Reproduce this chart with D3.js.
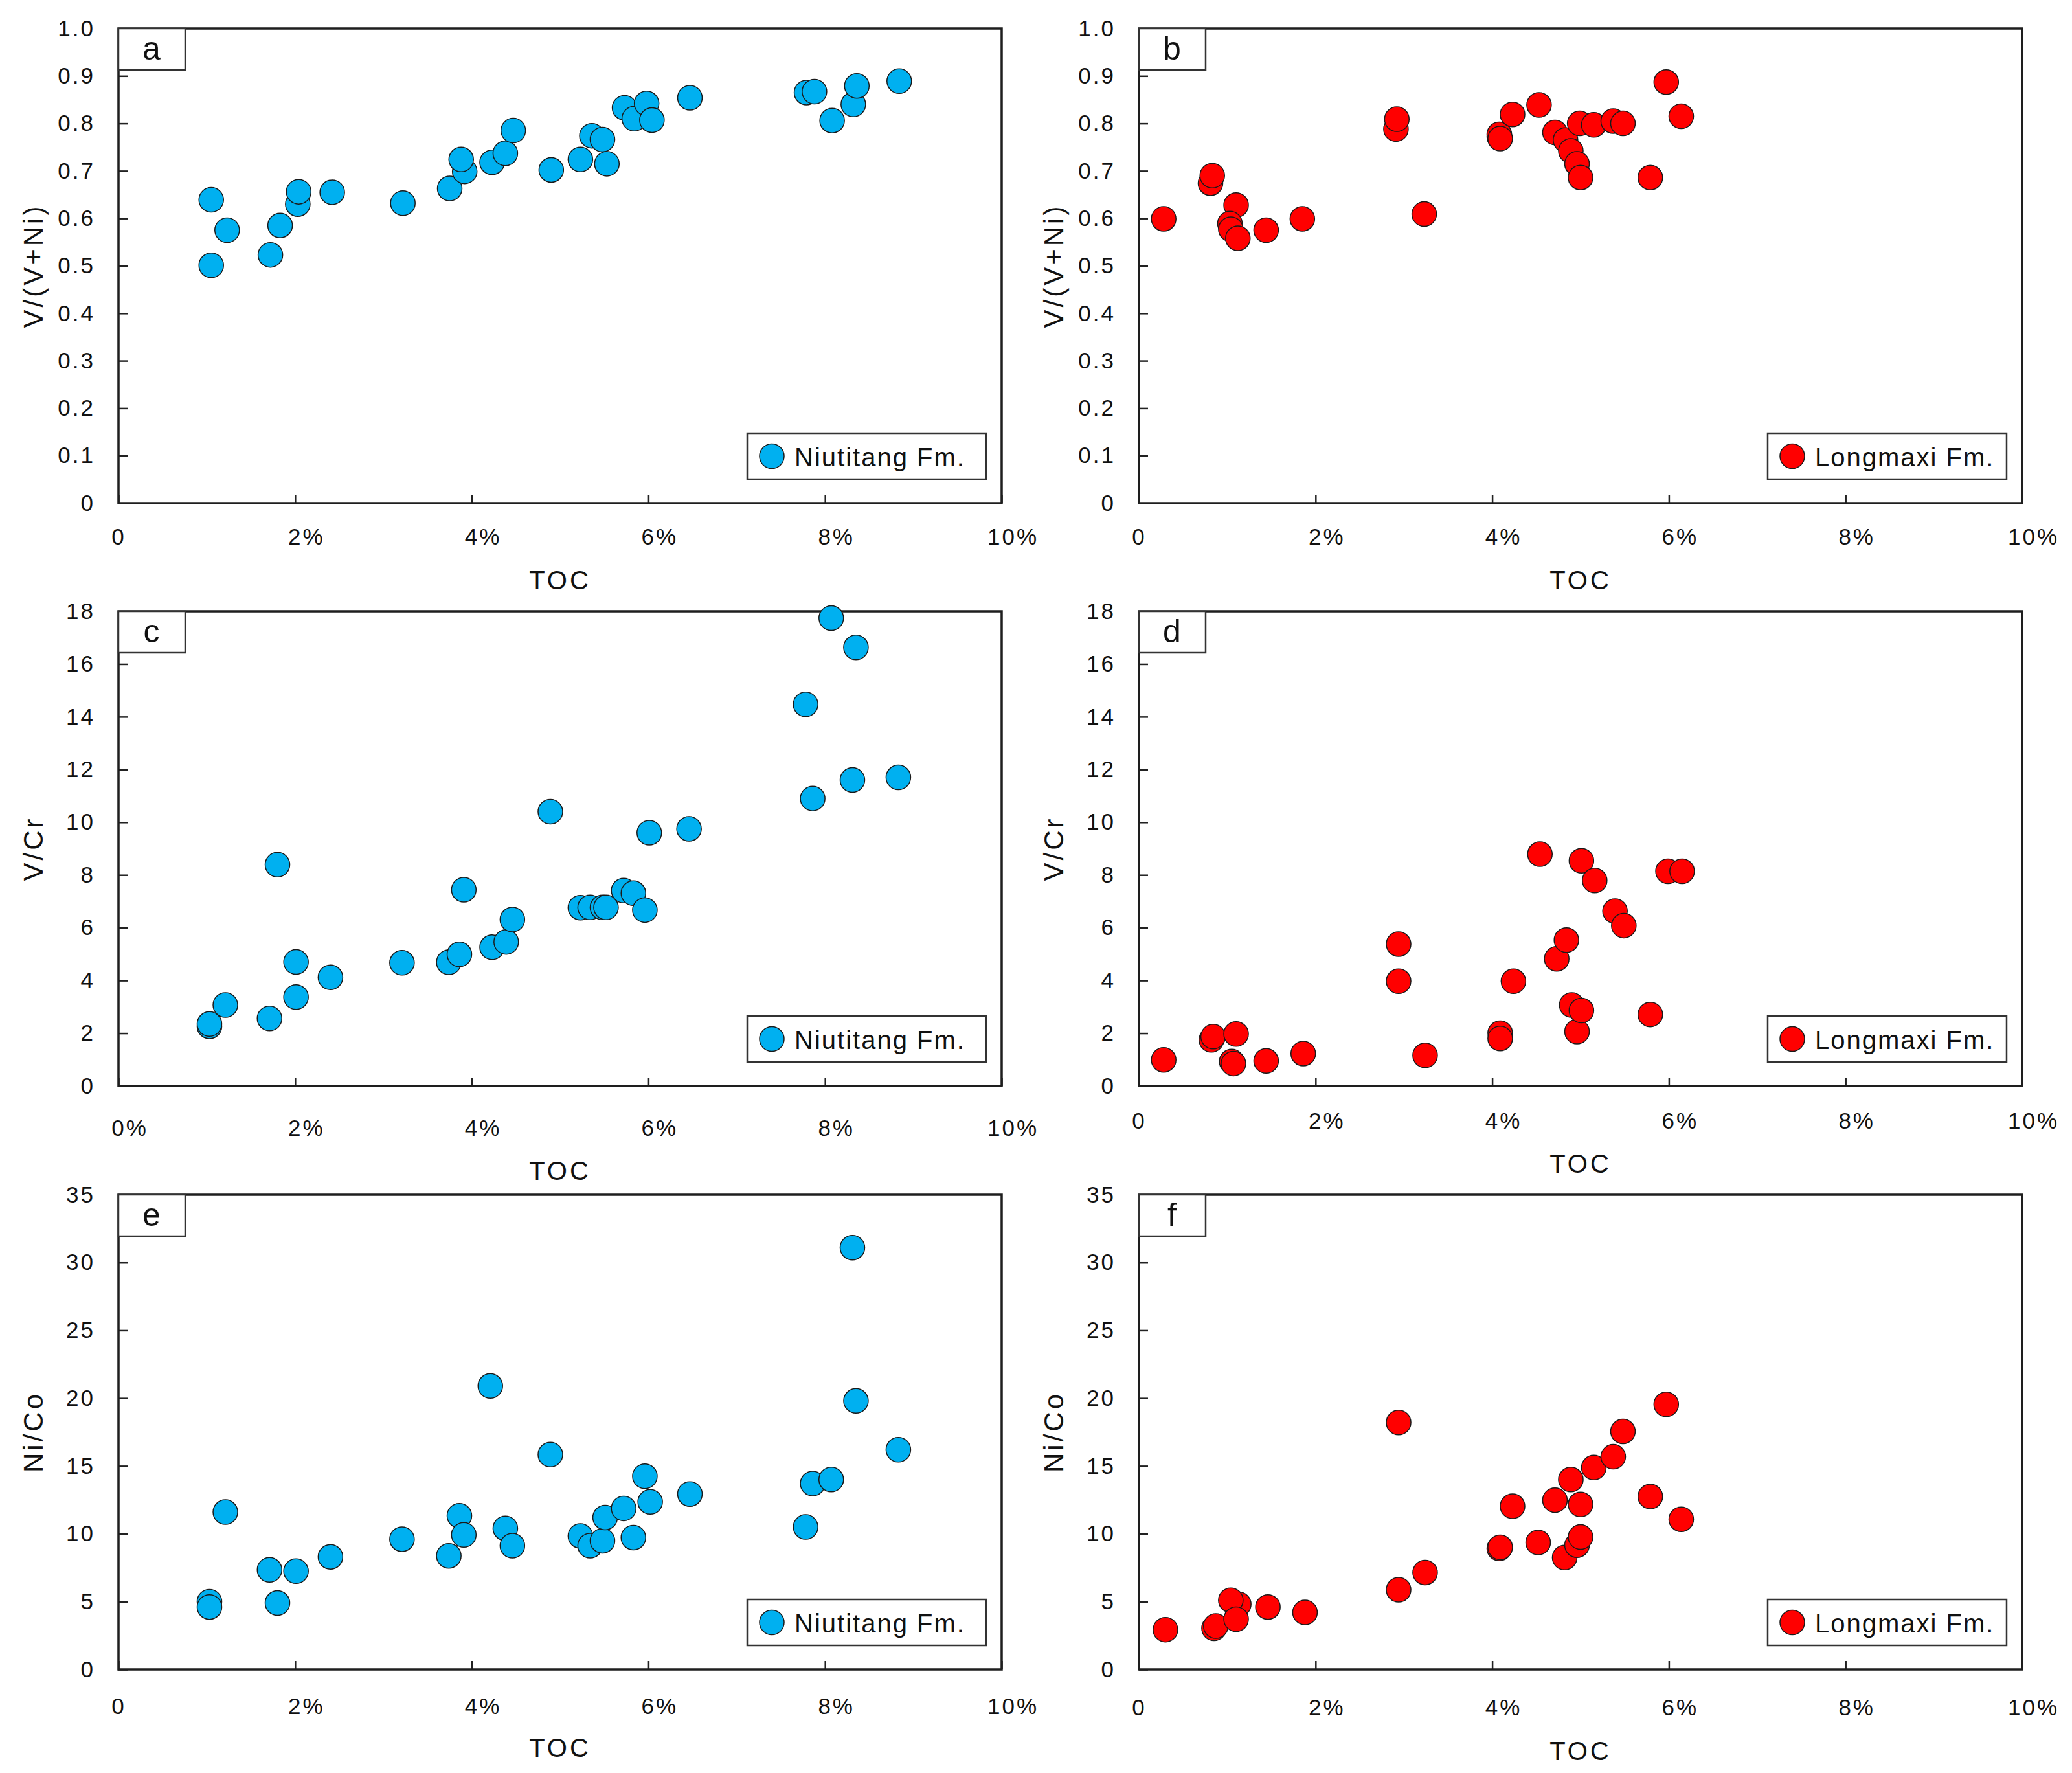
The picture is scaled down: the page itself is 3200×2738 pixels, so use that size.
<!DOCTYPE html>
<html>
<head>
<meta charset="utf-8">
<script src="https://cdn.jsdelivr.net/npm/d3@7"></script>
<style>
  body { margin: 0; background: #fff; }
  text { font-family: "Liberation Sans", Arial, sans-serif; fill: #111; }
</style>
</head>
<body>
<div id="chart"></div>
<script>
// TOC (%) and ratio values
var tocA = [1.05, 1.05, 1.23, 1.72, 1.83, 2.03, 2.04, 2.42, 3.22, 3.75, 3.92, 3.88, 4.23, 4.38, 4.47, 4.90, 5.23, 5.36, 5.48, 5.53, 5.73, 5.84, 5.98, 6.04, 6.47, 7.79, 7.88, 8.08, 8.32, 8.36, 8.84]
var vvniA = [0.639, 0.501, 0.575, 0.523, 0.585, 0.630, 0.656, 0.655, 0.632, 0.663, 0.699, 0.724, 0.718, 0.737, 0.785, 0.702, 0.724, 0.774, 0.766, 0.715, 0.833, 0.810, 0.842, 0.807, 0.854, 0.865, 0.867, 0.806, 0.840, 0.879, 0.889]

var tocB = [0.28, 0.81, 0.83, 1.10, 1.03, 1.04, 1.12, 1.44, 1.85, 2.91, 2.92, 3.23, 4.08, 4.08, 4.09, 4.23, 4.53, 4.71, 4.83, 4.89, 4.96, 5.00, 4.99, 5.15, 5.37, 5.48, 5.79, 5.97, 6.14]
var vvniB = [0.599, 0.674, 0.690, 0.628, 0.589, 0.577, 0.558, 0.575, 0.599, 0.788, 0.809, 0.609, 0.772, 0.777, 0.768, 0.819, 0.839, 0.781, 0.765, 0.742, 0.715, 0.686, 0.800, 0.797, 0.805, 0.800, 0.686, 0.887, 0.815]

var tocC = [1.03, 1.03, 1.21, 1.71, 1.80, 2.01, 2.01, 2.40, 3.21, 3.74, 3.86, 3.91, 4.23, 4.39, 4.46, 4.89, 5.23, 5.34, 5.48, 5.52, 5.72, 5.83, 5.96, 6.01, 6.46, 7.78, 7.86, 8.07, 8.31, 8.35, 8.83]
var vcrC = [2.26, 2.35, 3.07, 2.56, 8.39, 4.70, 3.37, 4.12, 4.67, 4.69, 4.99, 7.44, 5.26, 5.46, 6.31, 10.4, 6.76, 6.77, 6.77, 6.77, 7.41, 7.31, 6.67, 9.6, 9.75, 14.47, 10.9, 17.74, 11.6, 16.63, 11.7]

var tocD = [0.28, 0.82, 0.84, 1.10, 1.05, 1.07, 1.44, 1.86, 2.94, 2.94, 3.24, 4.09, 4.09, 4.24, 4.54, 4.73, 4.84, 4.90, 4.96, 5.01, 5.01, 5.16, 5.39, 5.49, 5.79, 5.99, 6.15]
var vcrD = [0.99, 1.75, 1.87, 1.97, 0.93, 0.85, 0.95, 1.23, 5.38, 3.97, 1.16, 2.0, 1.8, 3.97, 8.79, 4.82, 5.53, 3.07, 2.06, 2.86, 8.54, 7.79, 6.63, 6.08, 2.71, 8.14, 8.14]

var tocE = [1.03, 1.03, 1.21, 1.71, 1.80, 2.01, 2.40, 3.21, 3.74, 3.86, 3.91, 4.21, 4.38, 4.46, 4.89, 5.23, 5.34, 5.48, 5.51, 5.72, 5.83, 5.96, 6.02, 6.47, 7.78, 7.86, 8.07, 8.31, 8.35, 8.83]
var nicoE = [4.99, 4.6, 11.6, 7.34, 4.89, 7.24, 8.3, 9.6, 8.37, 11.33, 9.92, 20.9, 10.4, 9.12, 15.84, 9.84, 9.12, 9.48, 11.2, 11.87, 9.72, 14.24, 12.35, 12.93, 10.5, 13.7, 14.0, 31.1, 19.8, 16.2]

var tocF = [0.30, 0.85, 0.87, 1.13, 1.04, 1.10, 1.46, 1.88, 2.94, 2.94, 3.24, 4.08, 4.09, 4.23, 4.52, 4.71, 4.82, 4.89, 4.96, 5.00, 5.00, 5.15, 5.37, 5.48, 5.79, 5.97, 6.14]
var nicoF = [2.93, 3.03, 3.2, 4.8, 5.1, 3.7, 4.6, 4.2, 18.2, 5.87, 7.14, 8.92, 9.0, 12.03, 9.36, 12.48, 8.25, 14.0, 9.16, 9.76, 12.16, 14.88, 15.68, 17.55, 12.75, 19.54, 11.07]

// ticks
var xTicks = [0, 2, 4, 6, 8, 10]
var xTickLabels = ['0', '2%', '4%', '6%', '8%', '10%']
var xTickLabelsC = ['0%', '2%', '4%', '6%', '8%', '10%']
var ticksVNi = [0, 0.1, 0.2, 0.3, 0.4, 0.5, 0.6, 0.7, 0.8, 0.9, 1.0]
var ticksVCr = [0, 2, 4, 6, 8, 10, 12, 14, 16, 18]
var ticksNiCo = [0, 5, 10, 15, 20, 25, 30, 35]

var series = ['Niutitang Fm.', 'Longmaxi Fm.']
var colors = ['#00b0f0', '#ff0000']

var width = 3200
    height = 2738

var svg = d3.select('#chart')
  .append('svg')
    .attr('width', width)
    .attr('height', height)

svg.append('rect').attr('width', width).attr('height', height).attr('fill', '#fff')

// one panel = one scatter
function panel(opt) {
  var x = d3.scaleLinear().domain([0, 10]).range([opt.left, opt.left + 1364])
  var y = d3.scaleLinear().domain(opt.ydomain).range([opt.top + 733, opt.top])
  var bottom = opt.top + 733
  var right = opt.left + 1364

  var g = svg.append('g')

  // y axis, ticks pointing inward
  g.append('g')
    .attr('transform', 'translate(' + opt.left + ',0)')
    .call(d3.axisLeft(y).tickValues(opt.yticks).tickSizeInner(-14).tickSizeOuter(0).tickPadding(36)
      .tickFormat(opt.yfmt))
    .call(function(a) {
      a.select('.domain').remove()
      a.selectAll('line').attr('stroke', '#222').attr('stroke-width', 2.5)
      a.selectAll('text').attr('font-size', 35).attr('letter-spacing', 3).attr('fill', '#111')
        .attr('font-family', '"Liberation Sans", Arial, sans-serif')
    })

  // x axis
  g.append('g')
    .attr('transform', 'translate(0,' + bottom + ')')
    .call(d3.axisBottom(x).tickValues(xTicks).tickSizeInner(-13).tickSizeOuter(0).tickPadding(opt.xlabOff - 12)
      .tickFormat(function(d, i) { return opt.xlabels[i] }))
    .call(function(a) {
      a.select('.domain').remove()
      a.selectAll('line').attr('stroke', '#222').attr('stroke-width', 2.5)
      a.selectAll('text').attr('font-size', 35).attr('letter-spacing', 3).attr('fill', '#111')
        .attr('font-family', '"Liberation Sans", Arial, sans-serif')
        .attr('dx', function(d, i) { return opt.xlabels[i].indexOf('%') >= 0 ? 17 : 0 })
    })

  // plot frame
  g.append('rect')
    .attr('x', opt.left).attr('y', opt.top)
    .attr('width', right - opt.left).attr('height', bottom - opt.top)
    .attr('fill', 'none').attr('stroke', '#1e1e1e').attr('stroke-width', 3.5)

  // points
  g.append('g')
    .selectAll('circle')
    .data(opt.xs)
    .enter()
    .append('circle')
      .attr('cx', function(d) { return x(d) })
      .attr('cy', function(d, i) { return y(opt.ys[i]) })
      .attr('r', 19)
      .attr('fill', opt.color)
      .attr('stroke', '#1a1a1a')
      .attr('stroke-width', 1.5)

  // panel letter
  g.append('rect')
    .attr('x', opt.left).attr('y', opt.top)
    .attr('width', 103).attr('height', 64)
    .attr('fill', '#fff').attr('stroke', '#333').attr('stroke-width', 2.5)
  g.append('text')
    .attr('x', opt.left + 51).attr('y', opt.top + 48)
    .attr('text-anchor', 'middle').attr('font-size', 50).attr('fill', '#222')
    .text(opt.letter)

  // legend
  var lw = 369, lh = 71
  var lx = right - 24 - lw, ly = bottom - 37 - lh
  g.append('rect')
    .attr('x', lx).attr('y', ly).attr('width', lw).attr('height', lh)
    .attr('fill', '#fff').attr('stroke', '#333').attr('stroke-width', 2.5)
  g.append('circle')
    .attr('cx', lx + 38).attr('cy', ly + lh / 2).attr('r', 19)
    .attr('fill', opt.color).attr('stroke', '#1a1a1a').attr('stroke-width', 1.5)
  g.append('text')
    .attr('x', lx + 73).attr('y', ly + lh / 2 + 15)
    .attr('font-size', 40).attr('letter-spacing', 2)
    .text(opt.name)

  // axis titles
  g.append('text')
    .attr('x', (opt.left + right) / 2).attr('y', bottom + opt.titleOff + 14)
    .attr('text-anchor', 'middle').attr('font-size', 40).attr('letter-spacing', 4)
    .text('TOC')
  g.append('text')
    .attr('transform', 'translate(' + (opt.left - 117) + ',' + ((opt.top + bottom) / 2) + ') rotate(-90)')
    .attr('text-anchor', 'middle').attr('font-size', 42).attr('letter-spacing', 4)
    .text(opt.ylabel)
}

var fmtVNi = function(d) { return d === 0 ? '0' : d3.format('.1f')(d) }
var fmtInt = function(d) { return String(d) }

panel({ letter: 'a', left: 183, top: 44, xs: tocA, ys: vvniA, ydomain: [0, 1], yticks: ticksVNi, yfmt: fmtVNi,
  ylabel: 'V/(V+Ni)', xlabels: xTickLabels, xlabOff: 51, titleOff: 119, color: colors[0], name: series[0] })
panel({ letter: 'b', left: 1759, top: 44, xs: tocB, ys: vvniB, ydomain: [0, 1], yticks: ticksVNi, yfmt: fmtVNi,
  ylabel: 'V/(V+Ni)', xlabels: xTickLabels, xlabOff: 51, titleOff: 119, color: colors[1], name: series[1] })
panel({ letter: 'c', left: 183, top: 944, xs: tocC, ys: vcrC, ydomain: [0, 18], yticks: ticksVCr, yfmt: fmtInt,
  ylabel: 'V/Cr', xlabels: xTickLabelsC, xlabOff: 64, titleOff: 131, color: colors[0], name: series[0] })
panel({ letter: 'd', left: 1759, top: 944, xs: tocD, ys: vcrD, ydomain: [0, 18], yticks: ticksVCr, yfmt: fmtInt,
  ylabel: 'V/Cr', xlabels: xTickLabels, xlabOff: 53, titleOff: 120, color: colors[1], name: series[1] })
panel({ letter: 'e', left: 183, top: 1845, xs: tocE, ys: nicoE, ydomain: [0, 35], yticks: ticksNiCo, yfmt: fmtInt,
  ylabel: 'Ni/Co', xlabels: xTickLabels, xlabOff: 56, titleOff: 121, color: colors[0], name: series[0] })
panel({ letter: 'f', left: 1759, top: 1845, xs: tocF, ys: nicoF, ydomain: [0, 35], yticks: ticksNiCo, yfmt: fmtInt,
  ylabel: 'Ni/Co', xlabels: xTickLabels, xlabOff: 58, titleOff: 126, color: colors[1], name: series[1] })
</script>
</body>
</html>
